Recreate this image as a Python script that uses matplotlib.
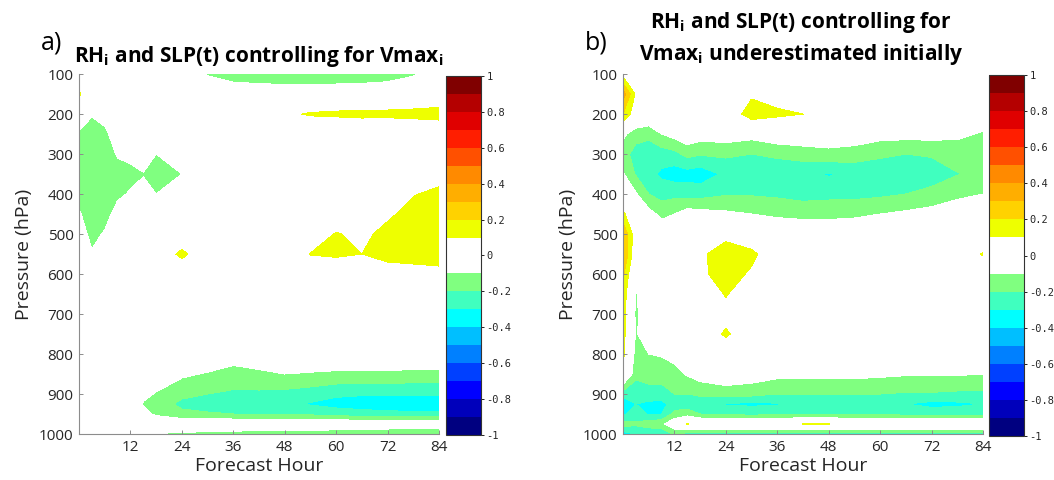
import numpy as np
import matplotlib
matplotlib.use('Agg')
import matplotlib.pyplot as plt

# ---------------- data ----------------
hours = [0, 3, 6, 9, 12, 15, 18, 24, 30, 36, 42, 48, 54, 60, 66, 72, 78, 84]
pressure = [100, 150, 200, 250, 300, 350, 400, 450, 500, 550, 600, 650, 700,
            750, 800, 850, 900, 925, 950, 975, 1000]

# correlation, panel a (rows = pressure levels, cols = forecast hours)
corr_a = [
    [0, 0, 0, 0, 0, 0, 0, -.02, -.11, -.17, -.19, -.19, -.19, -.18, -.17, -.15, -.11, -.05],
    [.12, -.02, 0, 0, 0, 0, 0, 0, 0, 0, 0, -.02, -.02, -.02, -.02, -.02, -.02, -.02],
    [-.05, -.09, -.05, 0, 0, 0, 0, 0, 0, 0, 0, .08, .11, .12, .13, .13, .14, .16],
    [-.11, -.16, -.13, -.03, -.02, 0, 0, 0, 0, 0, 0, 0, 0, -.02, -.02, -.03, -.03, -.04],
    [-.15, -.18, -.15, -.09, -.07, -.05, -.10, -.05, 0, 0, 0, 0, 0, 0, 0, 0, 0, 0],
    [-.17, -.18, -.16, -.14, -.13, -.105, -.16, -.10, 0, 0, 0, 0, 0, 0, 0, 0, 0, .03],
    [-.14, -.17, -.16, -.12, -.09, -.07, -.10, -.04, 0, 0, 0, 0, 0, 0, 0, 0, .09, .14],
    [-.09, -.15, -.14, -.06, -.03, -.02, -.02, 0, 0, 0, 0, 0, 0, 0, 0, .07, .16, .18],
    [-.05, -.13, -.09, 0, 0, 0, 0, 0, 0, 0, 0, 0, 0, .11, .06, .15, .18, .20],
    [0, -.09, -.02, 0, 0, 0, 0, .13, 0, 0, 0, 0, .105, .12, .10, .14, .15, .16],
    [0, 0, 0, 0, 0, 0, 0, 0, 0, 0, 0, 0, 0, 0, 0, .04, .05, .06],
    [0, 0, 0, 0, 0, 0, 0, 0, 0, 0, 0, 0, 0, 0, 0, 0, 0, 0],
    [0, 0, 0, 0, 0, 0, 0, 0, 0, 0, 0, 0, 0, 0, 0, 0, 0, 0],
    [0, 0, 0, 0, 0, 0, 0, 0, 0, 0, 0, 0, 0, 0, 0, 0, 0, 0],
    [0, 0, 0, 0, 0, 0, 0, 0, 0, -.06, -.03, 0, 0, 0, 0, 0, 0, 0],
    [0, 0, 0, 0, 0, 0, -.02, -.08, -.11, -.13, -.12, -.10, -.11, -.12, -.12, -.12, -.13, -.13],
    [0, 0, 0, 0, -.02, -.07, -.11, -.18, -.20, -.22, -.22, -.23, -.25, -.28, -.29, -.29, -.29, -.29],
    [0, 0, 0, 0, -.03, -.11, -.16, -.22, -.24, -.25, -.26, -.28, -.31, -.34, -.35, -.36, -.36, -.36],
    [0, 0, 0, 0, -.02, -.06, -.12, -.18, -.19, -.20, -.21, -.21, -.22, -.24, -.26, -.27, -.28, -.28],
    [0, 0, 0, 0, 0, 0, 0, 0, 0, 0, 0, 0, 0, 0, 0, 0, 0, 0],
    [0, 0, 0, 0, 0, 0, -.105, -.12, -.13, -.14, -.15, -.15, -.16, -.17, -.18, -.20, -.21, -.22],
]

# correlation, panel b
corr_b = [
    [.06, 0, 0, 0, 0, 0, 0, 0, 0, 0, 0, 0, 0, 0, 0, 0, 0, 0],
    [.35, .08, 0, 0, 0, 0, 0, 0, .08, .05, .02, 0, 0, 0, 0, 0, 0, 0],
    [.20, .02, 0, 0, 0, 0, 0, 0, .16, .12, .10, .02, 0, 0, 0, 0, 0, -.04],
    [-.08, -.15, -.17, -.10, -.06, -.02, -.05, -.04, -.06, -.02, -.01, -.03, -.03, -.06, -.06, -.06, -.08, -.11],
    [-.15, -.25, -.27, -.25, -.23, -.17, -.19, -.18, -.20, -.18, -.16, -.13, -.15, -.18, -.20, -.19, -.15, -.17],
    [-.09, -.21, -.27, -.32, -.35, -.34, -.36, -.28, -.27, -.27, -.27, -.31, -.27, -.27, -.27, -.25, -.205, -.18],
    [0, -.09, -.20, -.24, -.23, -.24, -.24, -.21, -.21, -.22, -.24, -.23, -.23, -.22, -.20, -.17, -.13, -.10],
    [.12, 0, -.06, -.13, -.10, -.05, -.06, -.08, -.10, -.12, -.13, -.13, -.12, -.10, -.08, -.06, -.02, 0],
    [.30, .02, 0, -.02, 0, 0, 0, .05, 0, -.01, -.02, -.02, -.02, 0, 0, 0, 0, 0],
    [.32, 0, 0, 0, 0, 0, .07, .18, .13, 0, 0, 0, 0, 0, 0, 0, 0, .11],
    [.22, -.06, .02, 0, 0, 0, .07, .16, .08, 0, 0, 0, 0, 0, 0, 0, 0, 0],
    [.17, -.11, 0, -.05, 0, 0, 0, .11, 0, 0, 0, 0, 0, 0, 0, 0, 0, 0],
    [.15, -.12, -.02, -.03, 0, 0, 0, .05, 0, 0, 0, 0, 0, 0, 0, 0, 0, 0],
    [.14, -.11, -.04, -.06, -.02, 0, 0, .12, 0, 0, 0, 0, 0, 0, 0, 0, 0, 0],
    [.13, -.14, -.10, -.09, -.07, -.04, 0, 0, 0, 0, 0, 0, 0, 0, 0, 0, 0, 0],
    [.06, -.17, -.15, -.16, -.13, -.09, -.05, -.02, -.04, -.07, -.07, -.07, -.07, -.08, -.09, -.09, -.09, -.10],
    [-.25, -.27, -.25, -.24, -.20, -.20, -.18, -.16, -.17, -.20, -.20, -.20, -.20, -.20, -.21, -.21, -.22, -.22],
    [-.42, -.30, -.32, -.33, -.26, -.25, -.27, -.31, -.32, -.31, -.27, -.305, -.26, -.27, -.30, -.33, -.32, -.30],
    [-.32, -.25, -.31, -.30, -.17, -.15, -.20, -.22, -.23, -.22, -.22, -.22, -.22, -.22, -.23, -.24, -.24, -.24],
    [-.15, -.18, -.15, -.12, -.02, .105, .05, .05, .05, .05, .102, .102, .05, .05, .05, .05, .05, .05],
    [-.35, -.30, -.28, -.30, -.18, -.25, -.25, -.25, -.25, -.25, -.25, -.25, -.24, -.24, -.24, -.24, -.23, -.23],
]

x_ticks = [12, 24, 36, 48, 60, 72, 84]
y_ticks = [100, 200, 300, 400, 500, 600, 700, 800, 900, 1000]
cbar_ticks = [-1, -0.8, -0.6, -0.4, -0.2, 0, 0.2, 0.4, 0.6, 0.8, 1]
cbar_labels = ['-1', '-0.8', '-0.6', '-0.4', '-0.2', '0', '0.2', '0.4', '0.6', '0.8', '1']
levels = np.linspace(-1, 1, 21)
colors = ['#000080', '#0000BB', '#0000FF', '#0040FF', '#0080FF', '#00BFFF',
          '#00FFFF', '#40FFBF', '#80FF80', '#FFFFFF', '#FFFFFF', '#EEFF00',
          '#FFD200', '#FFAE00', '#FF8A00', '#FF5000', '#FF1E00', '#E00000',
          '#B40000', '#800000']

panel_letters = ['a)', 'b)']
titles = [[r'RH$_\mathbf{i}$ and SLP(t) controlling for Vmax$_\mathbf{i}$'],
          [r'RH$_\mathbf{i}$ and SLP(t) controlling for',
           r'Vmax$_\mathbf{i}$ underestimated initially']]

# ---------------- style ----------------
plt.rcParams['font.family'] = ['Open Sans', 'DejaVu Sans']
plt.rcParams['mathtext.fontset'] = 'custom'
plt.rcParams['mathtext.rm'] = 'Open Sans'
plt.rcParams['mathtext.bf'] = 'Open Sans:bold'
plt.rcParams['mathtext.it'] = 'Open Sans:italic'

txt = '#262626'
spine_c = '#8c8c8c'

fig = plt.figure(figsize=(10.54, 4.8), dpi=100)

ax_pos = [[0.0750, 0.0958, 0.3416, 0.750], [0.5911, 0.0958, 0.3416, 0.750]]
cb_pos = [[0.4231, 0.0938, 0.0332, 0.748], [0.9383, 0.0917, 0.0332, 0.752]]
letter_x = [0.039, 0.555]
title_x = [0.2457, 0.760]

H = np.array(hours)
P = np.array(pressure)

for k, Z in enumerate([corr_a, corr_b]):
    ax = fig.add_axes(ax_pos[k])
    cs = ax.contourf(H, P, np.array(Z, dtype=float), levels=levels, colors=colors)
    ax.set_xlim(0, 84)
    ax.set_ylim(1000, 100)
    ax.set_xticks(x_ticks)
    ax.set_yticks(y_ticks)
    ax.tick_params(direction='in', length=3, width=0.7, color=spine_c,
                   labelcolor=txt, labelsize=11, pad=4)
    for s in ['top', 'right']:
        ax.spines[s].set_visible(False)
    for s in ['left', 'bottom']:
        ax.spines[s].set_color(spine_c)
        ax.spines[s].set_linewidth(0.8)
    ax.set_xlabel('Forecast Hour', fontsize=14, color=txt, labelpad=2)
    ax.set_ylabel('Pressure (hPa)', fontsize=14, color=txt, labelpad=4)

    cax = fig.add_axes(cb_pos[k])
    cb = fig.colorbar(cs, cax=cax, ticks=cbar_ticks)
    cb.ax.set_yticklabels(cbar_labels, family='DejaVu Sans Mono', fontsize=7.5, color=txt)
    cb.ax.tick_params(length=2, width=0.6, direction='out', pad=2)
    cb.outline.set_linewidth(0.8)
    cb.outline.set_edgecolor('#333333')

    fig.text(letter_x[k], 0.896, panel_letters[k], fontsize=18, color='black', va='baseline')

fig.text(title_x[0], 0.871, titles[0][0], fontsize=15, fontweight='bold',
         ha='center', va='baseline', color='black')
fig.text(title_x[1], 0.9417, titles[1][0], fontsize=15, fontweight='bold',
         ha='center', va='baseline', color='black')
fig.text(title_x[1], 0.875, titles[1][1], fontsize=15, fontweight='bold',
         ha='center', va='baseline', color='black')

fig.savefig('out.png', dpi=100)
